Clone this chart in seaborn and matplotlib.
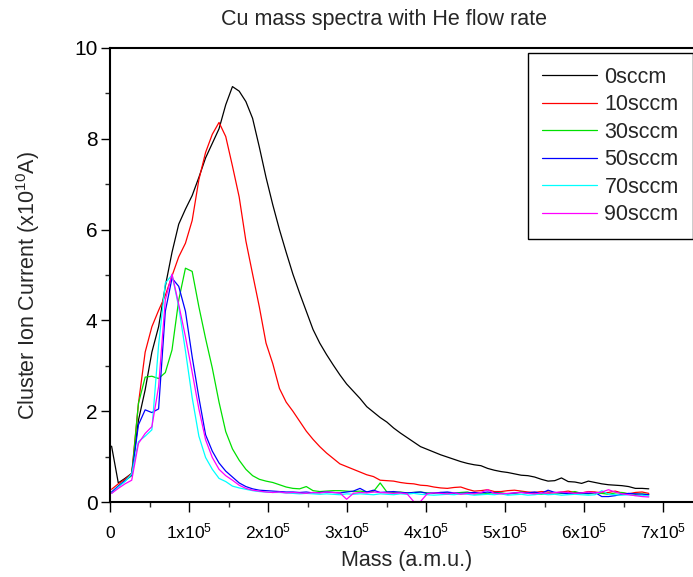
import matplotlib
matplotlib.use("Agg")
import matplotlib.pyplot as plt
import seaborn as sns
import pandas as pd
from matplotlib.ticker import MultipleLocator, FuncFormatter

# mass channels in units of 1e3 a.m.u.
mass_k = [2, 10.5, 19, 27.5, 36, 44.5, 53, 61.5, 70, 78.5, 87, 95.5, 104, 112.5, 121,
          129.5, 138, 146.5, 155, 163.5, 172, 180.5, 189, 197.5, 206, 214.5, 223, 231.5,
          240, 248.5, 257, 265.5, 274, 282.5, 291, 299.5, 308, 316.5, 325, 333.5, 342,
          350.5, 359, 367.5, 376, 384.5, 393, 401.5, 410, 418.5, 427, 435.5, 444, 452.5,
          461, 469.5, 478, 486.5, 495, 503.5, 512, 520.5, 529, 537.5, 546, 554.5, 563,
          571.5, 580, 588.5, 597, 605.5, 614, 622.5, 631, 639.5, 648, 656.5, 665, 673.5, 682]

sccm_0 = [1.23, 0.42, 0.52, 0.63, 1.80, 2.47, 3.30, 3.86, 4.75, 5.50,
          6.12, 6.45, 6.75, 7.15, 7.58, 7.90, 8.22, 8.75, 9.15, 9.05,
          8.82, 8.45, 7.82, 7.15, 6.55, 6.00, 5.50, 5.02, 4.60, 4.20,
          3.80, 3.50, 3.25, 3.02, 2.80, 2.60, 2.44, 2.28, 2.10, 1.98,
          1.86, 1.76, 1.63, 1.52, 1.42, 1.32, 1.22, 1.16, 1.10, 1.04,
          0.99, 0.94, 0.89, 0.85, 0.82, 0.80, 0.74, 0.70, 0.67, 0.65,
          0.62, 0.59, 0.58, 0.55, 0.50, 0.46, 0.47, 0.53, 0.45, 0.44,
          0.41, 0.46, 0.43, 0.40, 0.38, 0.37, 0.36, 0.34, 0.30, 0.30,
          0.29]
sccm_10 = [0.28, 0.40, 0.50, 0.63, 2.17, 3.30, 3.86, 4.22, 4.55, 4.98,
           5.40, 5.70, 6.20, 7.10, 7.70, 8.10, 8.36, 8.05, 7.40, 6.72,
           5.75, 5.02, 4.30, 3.50, 3.05, 2.50, 2.20, 2.00, 1.78, 1.56,
           1.38, 1.22, 1.08, 0.96, 0.84, 0.78, 0.72, 0.66, 0.60, 0.56,
           0.48, 0.47, 0.46, 0.43, 0.41, 0.40, 0.37, 0.36, 0.33, 0.31,
           0.30, 0.32, 0.33, 0.28, 0.24, 0.25, 0.27, 0.23, 0.23, 0.25,
           0.26, 0.24, 0.22, 0.21, 0.23, 0.22, 0.20, 0.22, 0.24, 0.21,
           0.20, 0.23, 0.22, 0.20, 0.21, 0.24, 0.20, 0.18, 0.21, 0.22,
           0.19]
sccm_30 = [0.20, 0.35, 0.47, 0.58, 2.17, 2.75, 2.77, 2.72, 2.85, 3.35,
           4.45, 5.15, 5.08, 4.30, 3.60, 2.95, 2.20, 1.55, 1.17, 0.92,
           0.72, 0.58, 0.50, 0.46, 0.43, 0.38, 0.33, 0.30, 0.29, 0.34,
           0.25, 0.23, 0.24, 0.25, 0.25, 0.24, 0.23, 0.24, 0.22, 0.23,
           0.42, 0.22, 0.21, 0.22, 0.20, 0.21, 0.22, 0.20, 0.19, 0.21,
           0.20, 0.19, 0.21, 0.22, 0.18, 0.17, 0.19, 0.21, 0.20, 0.18,
           0.19, 0.22, 0.20, 0.18, 0.17, 0.19, 0.21, 0.19, 0.20, 0.23,
           0.19, 0.18, 0.20, 0.19, 0.17, 0.20, 0.21, 0.18, 0.17, 0.18,
           0.16]
sccm_50 = [0.22, 0.35, 0.47, 0.60, 1.70, 2.03, 1.97, 2.05, 4.20, 4.93,
           4.75, 4.20, 3.20, 2.30, 1.48, 1.12, 0.86, 0.68, 0.55, 0.42,
           0.34, 0.29, 0.26, 0.25, 0.24, 0.23, 0.22, 0.22, 0.21, 0.22,
           0.20, 0.21, 0.22, 0.21, 0.20, 0.22, 0.24, 0.30, 0.22, 0.26,
           0.21, 0.22, 0.23, 0.21, 0.20, 0.21, 0.22, 0.19, 0.20, 0.21,
           0.22, 0.20, 0.19, 0.20, 0.21, 0.20, 0.22, 0.20, 0.19, 0.18,
           0.20, 0.21, 0.20, 0.22, 0.19, 0.26, 0.21, 0.20, 0.18, 0.19,
           0.20, 0.19, 0.21, 0.12, 0.12, 0.14, 0.17, 0.19, 0.18, 0.17,
           0.16]
sccm_70 = [0.19, 0.33, 0.45, 0.62, 1.33, 1.45, 1.59, 3.45, 4.82, 5.00,
           4.30, 3.33, 2.30, 1.45, 0.98, 0.72, 0.52, 0.45, 0.35, 0.31,
           0.28, 0.25, 0.23, 0.22, 0.21, 0.21, 0.20, 0.19, 0.18, 0.19,
           0.18, 0.17, 0.18, 0.17, 0.16, 0.18, 0.17, 0.18, 0.17, 0.16,
           0.18, 0.17, 0.16, 0.18, 0.17, 0.19, 0.17, 0.16, 0.15, 0.16,
           0.17, 0.16, 0.18, 0.17, 0.15, 0.16, 0.17, 0.16, 0.18, 0.15,
           0.16, 0.17, 0.15, 0.16, 0.18, 0.16, 0.17, 0.15, 0.16, 0.17,
           0.16, 0.15, 0.16, 0.25, 0.17, 0.16, 0.15, 0.16, 0.14, 0.15,
           0.13]
sccm_90 = [0.19, 0.30, 0.40, 0.48, 1.29, 1.51, 1.66, 2.54, 4.45, 5.02,
           4.35, 3.64, 2.86, 2.05, 1.37, 0.98, 0.72, 0.58, 0.48, 0.37,
           0.30, 0.26, 0.24, 0.22, 0.21, 0.22, 0.20, 0.21, 0.20, 0.19,
           0.21, 0.20, 0.22, 0.21, 0.20, 0.06, 0.19, 0.21, 0.20, 0.22,
           0.21, 0.20, 0.19, 0.20, 0.18, 0.01, 0.01, 0.18, 0.20, 0.19,
           0.18, 0.20, 0.17, 0.19, 0.18, 0.21, 0.27, 0.19, 0.18, 0.19,
           0.20, 0.21, 0.19, 0.18, 0.20, 0.19, 0.21, 0.22, 0.21, 0.19,
           0.20, 0.22, 0.20, 0.22, 0.27, 0.22, 0.18, 0.16, 0.14, 0.12,
           0.11]

labels = ["0sccm", "10sccm", "30sccm", "50sccm", "70sccm", "90sccm"]
series = [sccm_0, sccm_10, sccm_30, sccm_50, sccm_70, sccm_90]
colors = ["#000000", "#ff0000", "#00e000", "#0000ff", "#00ffff", "#ff00ff"]

mass = [m * 1e3 for m in mass_k]

sns.set_theme(style="ticks")
plt.rcParams["font.family"] = ["Liberation Sans", "DejaVu Sans"]
plt.rcParams["mathtext.fontset"] = "custom"
plt.rcParams["mathtext.rm"] = "Liberation Sans"
plt.rcParams["mathtext.it"] = "Liberation Sans:italic"

fig = plt.figure(figsize=(6.93, 5.77), dpi=100)
# the right side of the original chart is cropped off
ax = fig.add_axes([110 / 693, 75 / 577, 632 / 693, 454 / 577])

for name, vals, col in zip(labels, series, colors):
    sns.lineplot(x=mass, y=vals, color=col, lw=0.9, label=name, ax=ax,
                 estimator=None, sort=False)

ax.set_xlim(0, 8e5)
ax.set_ylim(0, 10)
for s in ax.spines.values():
    s.set_linewidth(1.5)
    s.set_color("black")

ax.xaxis.set_major_locator(MultipleLocator(1e5))
ax.xaxis.set_minor_locator(MultipleLocator(5e4))
ax.yaxis.set_major_locator(MultipleLocator(2))
ax.yaxis.set_minor_locator(MultipleLocator(1))


def fmt_mass(v, pos):
    n = int(round(v / 1e5))
    if n == 0:
        return "0"
    return r"$\mathregular{%dx10^{5}}$" % n


ax.xaxis.set_major_formatter(FuncFormatter(fmt_mass))
ax.tick_params(axis="x", which="major", direction="out", length=7, width=1,
               labelsize=12.5, pad=19, colors="black")
ax.tick_params(axis="x", which="minor", direction="out", length=3.5, width=1)
ax.tick_params(axis="y", which="major", direction="out", length=6.5, width=1,
               labelsize=15, pad=2.5, colors="black")
ax.tick_params(axis="y", which="minor", direction="out", length=3.5, width=1)
for t in ax.xaxis.get_major_ticks():
    t.label1.set_verticalalignment("baseline")

ax.set_xlabel("Mass (a.m.u.)", fontsize=15.5)
ax.xaxis.set_label_coords((407 - 110) / 632, -(550 - 502) / 454)
ax.set_ylabel(r"Cluster Ion Current (x10$\mathregular{^{10}}$A)", fontsize=15.5)
ax.yaxis.set_label_coords((42 - 110) / 632, 0.478)

fig.text(384 / 693, 1 - 19 / 577, "Cu mass spectra with He flow rate",
         ha="center", va="center", fontsize=15.5)

leg = ax.legend(loc="upper left", bbox_to_anchor=(528 / 693, 1 - 53 / 577),
                bbox_transform=fig.transFigure, frameon=True, fancybox=False,
                edgecolor="black", framealpha=1, fontsize=15.5, handlelength=2.55,
                handletextpad=0.35, labelspacing=0.3, borderpad=0.65,
                borderaxespad=0)
leg.get_frame().set_linewidth(1.0)

fig.savefig("out.png", dpi=100)
